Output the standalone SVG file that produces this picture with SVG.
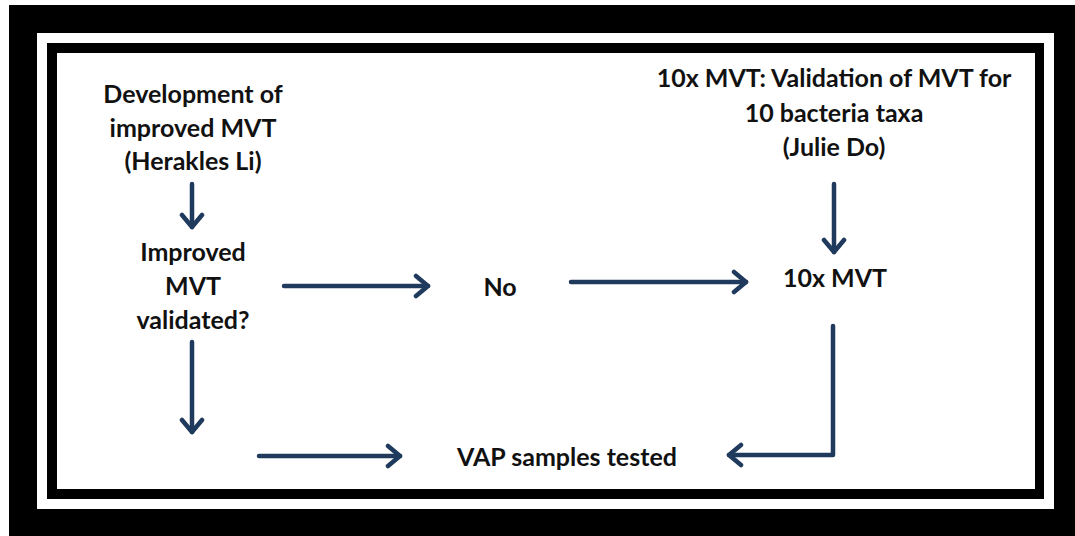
<svg xmlns="http://www.w3.org/2000/svg" width="1075" height="536" viewBox="0 0 1075 536">
<style>
text{font-family:Lato,"Open Sans","Liberation Sans",sans-serif;font-weight:bold;font-size:25px;fill:#111;text-anchor:middle}
.c{fill:none;stroke:#1f3a5c;stroke-width:4.5;stroke-linecap:round;stroke-linejoin:round}
</style>
<defs>
<marker id="ah" markerUnits="userSpaceOnUse" markerWidth="30" markerHeight="30" refX="15" refY="15" orient="auto" viewBox="0 0 30 30">
<path d="M3,5 L15,15 L3,25" fill="none" stroke="#1f3a5c" stroke-width="4.5" stroke-linecap="round" stroke-linejoin="round"/>
</marker>
</defs>
<rect x="0" y="0" width="1075" height="536" fill="#fff"/>
<rect x="9" y="5" width="1066" height="531" fill="#000"/>
<rect x="37" y="33" width="1017" height="476" fill="#fff"/>
<rect x="47" y="43" width="997" height="456" fill="#000"/>
<rect x="57" y="53" width="978" height="436" fill="#fff"/>
<g id="n-dev"><text x="193" y="103">Development of</text><text x="193" y="137">improved MVT</text><text x="193" y="170">(Herakles Li)</text></g>
<g id="n-improved"><text x="193" y="261">Improved</text><text x="193" y="295">MVT</text><text x="193" y="329">validated?</text></g>
<g id="n-no"><text x="500" y="296">No</text></g>
<g id="n-valid10x"><text x="834" y="87">10x MVT: Validation of MVT for</text><text x="834" y="122">10 bacteria taxa</text><text x="834" y="156">(Julie Do)</text></g>
<g id="n-10x"><text x="835" y="287">10x MVT</text></g>
<g id="n-vap"><text x="567" y="466">VAP samples tested</text></g>
<g id="connectors">
<path class="c" d="M192,184 V227" marker-end="url(#ah)"/>
<path class="c" d="M284,286 H428" marker-end="url(#ah)"/>
<path class="c" d="M571,282 H746" marker-end="url(#ah)"/>
<path class="c" d="M834,184 V252" marker-end="url(#ah)"/>
<path class="c" d="M192,342 V432" marker-end="url(#ah)"/>
<path class="c" d="M259,456 H400" marker-end="url(#ah)"/>
<path class="c" d="M833,326 V455 H729" marker-end="url(#ah)"/>
</g>
</svg>
